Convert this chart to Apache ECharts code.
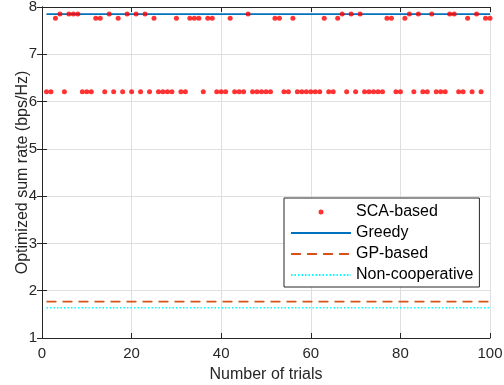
<!DOCTYPE html>
<html>
<head>
<meta charset="utf-8">
<script src="https://cdn.jsdelivr.net/npm/echarts@6/dist/echarts.min.js"></script>
<style>
html,body{margin:0;padding:0;background:#fff;}
#chart{width:504px;height:385px;}
</style>
</head>
<body>
<div id="chart"></div>
<script>
// Data
var trials = [];
for (var i = 1; i <= 100; i++) trials.push(i);
var scaBased = [
  6.21, 6.21, 7.76, 7.85, 6.21, 7.85, 7.85, 7.85, 6.21, 6.21,
  6.21, 7.76, 7.76, 6.21, 7.85, 6.21, 7.76, 6.21, 7.85, 6.21,
  7.85, 6.21, 7.85, 6.21, 7.76, 6.21, 6.21, 6.21, 6.21, 7.76,
  6.21, 6.21, 7.76, 7.76, 7.76, 6.21, 7.76, 7.76, 6.21, 6.21,
  6.21, 7.76, 6.21, 6.21, 6.21, 7.85, 6.21, 6.21, 6.21, 6.21,
  6.21, 7.76, 7.76, 6.21, 6.21, 7.76, 6.21, 6.21, 6.21, 6.21,
  6.21, 6.21, 7.76, 6.21, 6.21, 7.76, 7.85, 6.21, 7.85, 6.21,
  7.85, 6.21, 6.21, 6.21, 6.21, 6.21, 7.76, 7.76, 6.21, 6.21,
  7.76, 7.85, 6.21, 7.85, 6.21, 6.21, 7.85, 6.21, 6.21, 6.21,
  7.85, 7.85, 6.21, 6.21, 7.76, 6.21, 7.85, 6.21, 7.76, 7.76
];
var lineTrials = [1, 100];
var greedy = [7.85, 7.85];
var gpBased = [1.77, 1.77];
var nonCooperative = [1.64, 1.64];
var xTicks = [0, 20, 40, 60, 80, 100];
var yTicks = [1, 2, 3, 4, 5, 6, 7, 8];
var seriesNames = ['SCA-based', 'Greedy', 'GP-based', 'Non-cooperative'];

function pairs(xs, ys) { return xs.map(function (x, k) { return [x, ys[k]]; }); }

var FONT = 'Liberation Sans, Arial, Helvetica, sans-serif';
var AX = '#262626';
var GRID = '#dfdfdf';

var chart = echarts.init(document.getElementById('chart'), null, {renderer: 'canvas'});
var baseX = {
  type: 'value', min: xTicks[0], max: xTicks[xTicks.length - 1], interval: 20,
  axisLine: {show: true, lineStyle: {color: AX, width: 1}},
  axisTick: {show: true, inside: true, length: 5, lineStyle: {color: AX}}
};
var baseY = {
  type: 'value', min: yTicks[0], max: yTicks[yTicks.length - 1], interval: 1,
  axisLine: {show: true, lineStyle: {color: AX, width: 1}},
  axisTick: {show: true, inside: true, length: 5, lineStyle: {color: AX}}
};
var option = {
  animation: false,
  backgroundColor: '#fff',
  textStyle: {fontFamily: FONT},
  grid: {left: 42, right: 14, top: 7, bottom: 47, containLabel: false, outerBoundsMode: 'none'},
  xAxis: [
    Object.assign({}, baseX, {
      position: 'bottom',
      name: 'Number of trials', nameLocation: 'middle', nameGap: 29, nameMoveOverlap: false,
      nameTextStyle: {color: AX, fontSize: 16, fontFamily: FONT},
      axisLabel: {color: AX, fontSize: 15, margin: 8, fontFamily: FONT},
      splitLine: {show: true, lineStyle: {color: GRID, width: 1}}
    }),
    Object.assign({}, baseX, {
      position: 'top', axisLabel: {show: false}, splitLine: {show: false}
    })
  ],
  yAxis: [
    Object.assign({}, baseY, {
      position: 'left',
      name: 'Optimized sum rate (bps/Hz)', nameLocation: 'middle', nameGap: 11, nameRotate: 90,
      nameMoveOverlap: false,
      nameTextStyle: {color: AX, fontSize: 16, fontFamily: FONT},
      axisLabel: {color: AX, fontSize: 15, margin: 5, fontFamily: FONT},
      splitLine: {show: true, lineStyle: {color: GRID, width: 1}}
    }),
    Object.assign({}, baseY, {
      position: 'right', axisLabel: {show: false}, splitLine: {show: false}
    })
  ],
  legend: {
    data: [
      {name: seriesNames[0]},
      {name: seriesNames[1], itemStyle: {opacity: 0}},
      {name: seriesNames[2], itemStyle: {opacity: 0}},
      {name: seriesNames[3], itemStyle: {opacity: 0}}
    ],
    orient: 'vertical',
    left: 284, top: 198,
    padding: [6, 6, 4, 6],
    itemWidth: 60, itemHeight: 5, itemGap: 5, itemTextGap: 4,
    backgroundColor: '#fff',
    borderColor: AX, borderWidth: 1, borderRadius: 0,
    textStyle: {color: '#000', fontSize: 16, fontFamily: FONT}
  },
  series: [
    {
      name: seriesNames[0], type: 'scatter', xAxisIndex: 0, yAxisIndex: 0,
      symbol: 'circle', symbolSize: 5,
      itemStyle: {color: '#ff0000'},
      data: pairs(trials, scaBased), z: 5
    },
    {
      name: seriesNames[1], type: 'line', showSymbol: false, symbol: 'none',
      lineStyle: {color: '#0072bd', width: 1.6, type: 'solid'},
      itemStyle: {color: '#0072bd'},
      data: pairs(lineTrials, greedy), z: 4
    },
    {
      name: seriesNames[2], type: 'line', showSymbol: false, symbol: 'none',
      lineStyle: {color: '#d95319', width: 1.6, type: [10, 6]},
      itemStyle: {color: '#d95319'},
      data: pairs(lineTrials, gpBased), z: 4
    },
    {
      name: seriesNames[3], type: 'line', showSymbol: false, symbol: 'none',
      lineStyle: {color: '#00ffff', width: 1.6, type: [1.5, 2]},
      itemStyle: {color: '#00ffff'},
      data: pairs(lineTrials, nonCooperative), z: 4
    }
  ]
};
chart.setOption(option);
</script>
</body>
</html>
